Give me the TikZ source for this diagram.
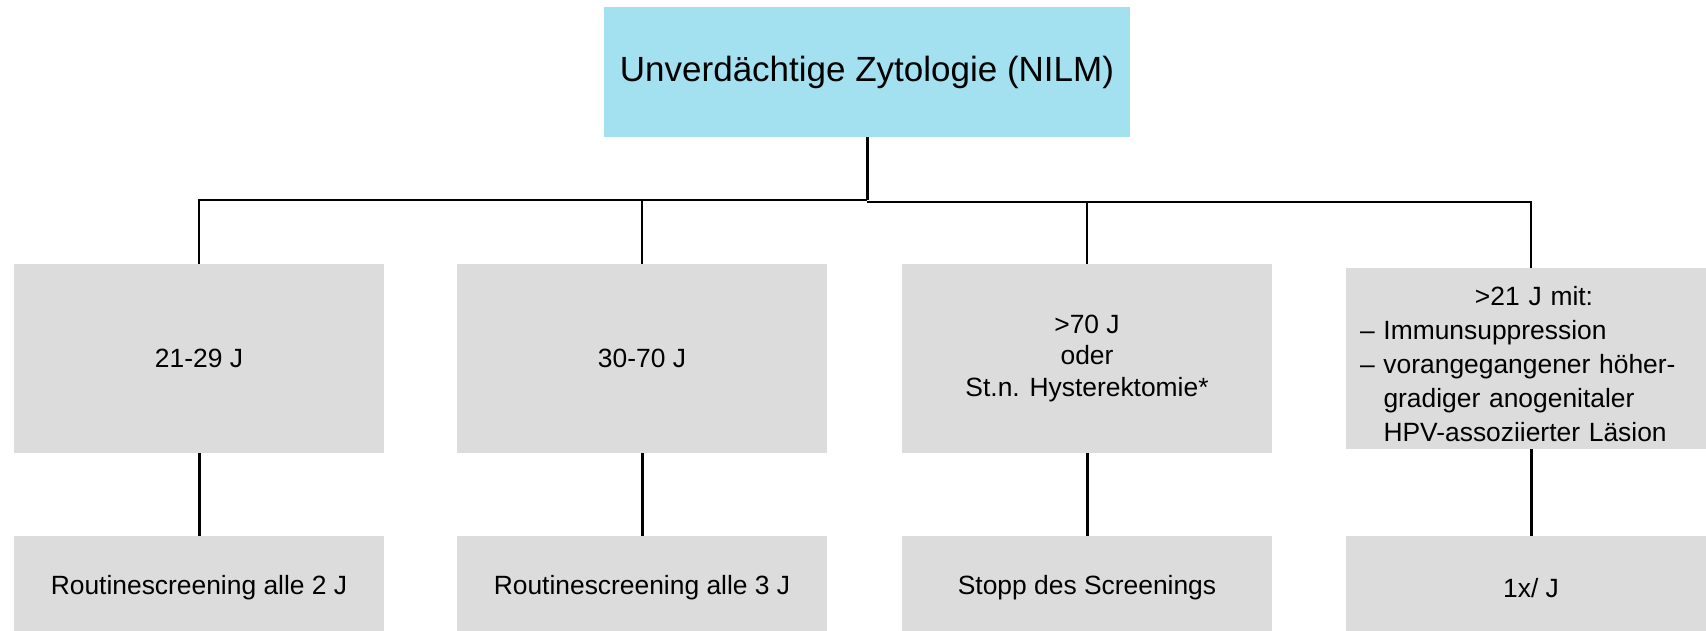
\documentclass[tikz,border=0pt]{standalone}
\usepackage{fontspec}
\setmainfont{Liberation Sans}
\usepackage{tikz}
\usetikzlibrary{calc}

\definecolor{nilmcyan}{RGB}{163,225,240}
\definecolor{boxgray}{RGB}{220,220,220}

\begin{document}
\begin{tikzpicture}[x=0.5pt,y=0.5pt,yscale=-1,xscale=1,
  topbox/.style={fill=nilmcyan,minimum width=263pt,minimum height=65pt,inner sep=0pt,font=\fontsize{17.5}{21}\selectfont},
  agebox/.style={fill=boxgray,minimum width=185pt,minimum height=94.5pt,inner sep=0pt,align=center,font=\fontsize{13.2}{15.75}\selectfont},
  resbox/.style={fill=boxgray,minimum width=185pt,minimum height=52pt,inner sep=0pt,font=\fontsize{13.2}{15.75}\selectfont},
  conn/.style={line width=1pt},
  connthick/.style={line width=1.5pt}]

\useasboundingbox (0,0) rectangle (1706,631);
\clip (0,0) rectangle (1706,631);

%Shape: Rectangle [top]
\node[topbox] (nilm) at (867,72) {Unverdächtige Zytologie (NILM)};

%Shape: Rectangle [age groups]
\node[agebox] (age1) at (199,358.5) {21-29 J};
\node[agebox] (age2) at (642,358.5) {30-70 J};
\node[agebox] (age3) at (1087,358.5) {>70 J\\oder\\St.n. Hysterektomie*};
\node[agebox,minimum height=90.5pt] (age4) at (1531,358.5) {};
% Text Node
\node[inner sep=0pt,text width=174pt,align=left,font=\fontsize{13.2}{16.9}\selectfont] (age4txt) at (1534,364)
  {\makebox[174pt]{>21 J mit:}\\
   – Immunsuppression\\
   – vorangegangener höher-\\
   \phantom{– }gradiger anogenitaler\\
   \phantom{– }HPV-assoziierter Läsion};

%Shape: Rectangle [results]
\node[resbox] (res1) at (199,588) {Routinescreening alle 2 J};
\node[resbox] (res2) at (642,588) {Routinescreening alle 3 J};
\node[resbox] (res3) at (1087,588) {Stopp des Screenings};
\node[resbox] (res4) at (1531,588) {1x/ J};

%Straight Lines
\coordinate (split) at (867,200);
\coordinate (splitr) at (867,202);
\draw[connthick] (nilm.south) -- (split);
\draw[conn] (split) -| (age1.north);
\draw[conn] (split) -| (age2.north);
\draw[conn] (splitr) -| (age3.north);
\draw[conn] (splitr) -| (age4.north);

\foreach \i in {1,...,4}
  \draw[connthick] (age\i.south) -- (res\i.north);

\end{tikzpicture}
\end{document}
